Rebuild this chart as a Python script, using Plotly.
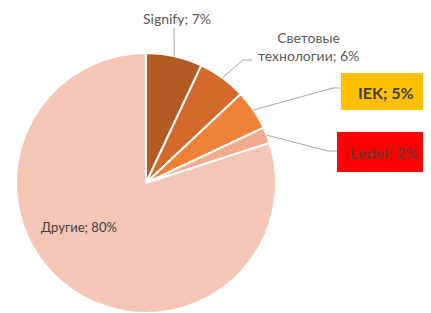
import math
import plotly.graph_objects as go

labels = ["Signify", "Световые<br>технологии", "IEK", "Ledel", "Другие"]
values = [7, 6, 5, 2, 80]
colors = ["#B25B22", "#D3692B", "#EE8136", "#F3AA8E", "#F5C6B5"]

# page body has an 8px margin; work in window pixels and shift
OFF = 8
W, H = 431 - OFF, 313 - OFF
cx, cy, r = 146, 183, 130

def px(x, y):
    return (x - OFF) / W, 1 - (y - OFF) / H

x0d, y1d = px(cx - r, cy - r)
x1d, y0d = px(cx + r, cy + r)

fig = go.Figure(go.Pie(
    labels=labels, values=values, sort=False, direction="clockwise",
    rotation=0, textinfo="none", hoverinfo="label+percent",
    marker=dict(colors=colors, line=dict(color="white", width=2)),
    domain=dict(x=[x0d, x1d], y=[max(0, y0d), min(1, y1d)]), showlegend=False,
))

total = sum(values)
cum = 0
mids = []
for v in values:
    mids.append((cum + v / 2) / total * 2 * math.pi)
    cum += v

label_style = [
    dict(tx=177, ty=18, path=[(174, 28)], bg=None, fc="#595959", bold=False),
    dict(tx=308, ty=46, path=[(243, 60), (252, 60)], bg=None, fc="#595959", bold=False),
    dict(tx=386, ty=92, path=[(333, 88), (341, 88)], bg="#FFC000", fc="#404040", bold=True,
         box=(341, 73, 431, 110)),
    dict(tx=384, ty=152, path=[(328, 151), (337, 151)], bg="#FF0000", fc="#7A2E2E", bold=True,
         box=(337, 132, 431, 172)),
]

FONT = "Lato"
shapes = []
annotations = []
for i, st in enumerate(label_style):
    a = mids[i]
    sx = cx + r * math.sin(a)
    sy = cy - r * math.cos(a)
    pts = [(sx, sy)] + st["path"]
    for (xa, ya), (xb, yb) in zip(pts[:-1], pts[1:]):
        X0, Y0 = px(xa, ya)
        X1, Y1 = px(xb, yb)
        shapes.append(dict(type="line", xref="paper", yref="paper", x0=X0, y0=Y0, x1=X1, y1=Y1,
                           line=dict(color="#A6A6A6", width=1)))
    if st.get("box"):
        bx0, by0, bx1, by1 = st["box"]
        X0, Y0 = px(bx0, by1)
        X1, Y1 = px(bx1, by0)
        shapes.append(dict(type="rect", xref="paper", yref="paper", x0=X0, y0=Y0, x1=X1, y1=Y1,
                           fillcolor=st["bg"], line=dict(width=0), layer="above"))
    txt = f"{labels[i]}; {values[i]}%"
    if st["bold"]:
        txt = f"<b>{txt}</b>"
    tx, ty = px(st["tx"], st["ty"])
    annotations.append(dict(text=txt, x=tx, y=ty, xref="paper", yref="paper", showarrow=False,
                            xanchor="center", yanchor="middle",
                            font=dict(family=FONT, size=16 if st["bold"] else 14, color=st["fc"])))

tx, ty = px(79, 227)
annotations.append(dict(text=f"{labels[4]}; {values[4]}%", x=tx, y=ty, xref="paper", yref="paper",
                        showarrow=False, xanchor="center", yanchor="middle",
                        font=dict(family=FONT, size=13, color="#404040")))

fig.update_layout(width=W, height=H, margin=dict(l=0, r=0, t=0, b=0),
                  paper_bgcolor="white", plot_bgcolor="white",
                  shapes=shapes, annotations=annotations)
fig.write_html("out.html")
